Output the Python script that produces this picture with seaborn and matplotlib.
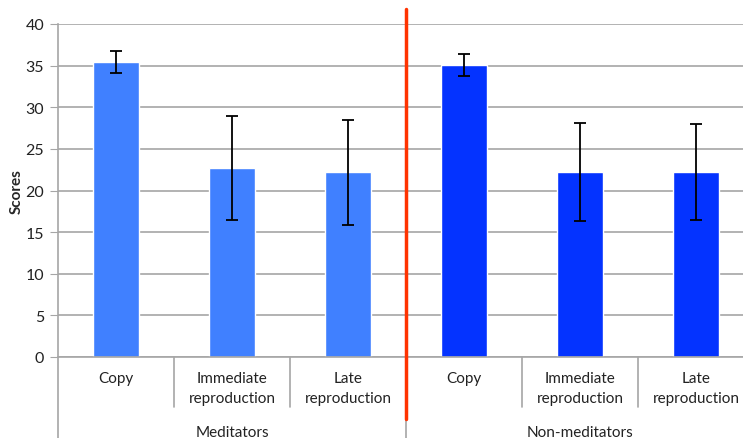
import numpy as np
import pandas as pd
import matplotlib
matplotlib.use("Agg")
import matplotlib.pyplot as plt
import seaborn as sns

groups = ["Meditators", "Non-meditators"]
conditions = ["Copy", "Immediate\nreproduction", "Late\nreproduction"]
meditators = [35.4, 22.7, 22.2]
non_meditators = [35.1, 22.2, 22.2]
meditators_err = [1.3, 6.25, 6.3]
non_meditators_err = [1.3, 5.9, 5.75]
colors = {"Meditators": "#4080FF", "Non-meditators": "#0433FF"}

rows = []
for g, vals, errs in [(groups[0], meditators, meditators_err),
                      (groups[1], non_meditators, non_meditators_err)]:
    for c, v, e in zip(conditions, vals, errs):
        rows.append({"slot": f"{g}|{c}", "group": g, "condition": c,
                     "score": v, "err": e})
df = pd.DataFrame(rows)

sns.set_style("white")
plt.rcParams["font.family"] = ["Lato", "DejaVu Sans"]

fig = plt.figure(figsize=(7.43, 4.39), dpi=100)
ax = fig.add_axes([58 / 743, 81 / 439, 696 / 743, 333 / 439])

sns.barplot(data=df, x="slot", y="score", hue="group", palette=colors,
            dodge=False, width=0.4, errorbar=None, legend=False, ax=ax,
            saturation=1, zorder=3)
pos = np.arange(len(df))
ax.errorbar(pos, df["score"], yerr=df["err"], fmt="none", ecolor="black",
            elinewidth=1.3, capsize=4, capthick=1.3, zorder=4)

ax.set_xlim(-0.5, 5.5)
ax.set_ylim(0, 40)
ax.set_yticks(range(0, 41, 5))
ax.yaxis.grid(True, color="#A6A6A6", linewidth=1.2, zorder=0)
ax.set_axisbelow(True)
for s in ["top", "right", "bottom"]:
    ax.spines[s].set_visible(False)
ax.spines["left"].set_color("#A6A6A6")
ax.spines["left"].set_linewidth(1.2)
ax.tick_params(axis="y", left=True, length=6, color="#A6A6A6",
               labelsize=11.5, pad=4, labelcolor="#222222")
ax.set_xticks([])
ax.set_xlabel("")
ax.set_ylabel("Scores", fontsize=11, fontweight="bold", labelpad=1)

trans = ax.get_xaxis_transform()
ax.plot([-0.5, 5.5], [0, 0], transform=trans, color="#A6A6A6", lw=1.2,
        clip_on=False, zorder=5)
for x in [0.5, 1.5, 3.5, 4.5]:
    ax.plot([x, x], [0, -0.15], transform=trans, color="#A6A6A6", lw=1.2,
            clip_on=False)
for x in [-0.5, 2.5, 5.5]:
    ax.plot([x, x], [0, -0.26], transform=trans, color="#A6A6A6", lw=1.2,
            clip_on=False)
for p, c in zip(pos, df["condition"]):
    ax.text(p, -0.042, c, transform=trans, ha="center", va="top",
            fontsize=11, linespacing=1.55, color="#222222")
for i, g in enumerate(groups):
    ax.text(i * 3 + 1, -0.224, g, transform=trans, ha="center",
            va="center", fontsize=11, color="#222222")

ax.plot([2.5, 2.5], [1.045, -0.186], transform=trans, color="#FF3300",
        lw=2.5, clip_on=False, zorder=6)

fig.savefig("out.png", dpi=100)
